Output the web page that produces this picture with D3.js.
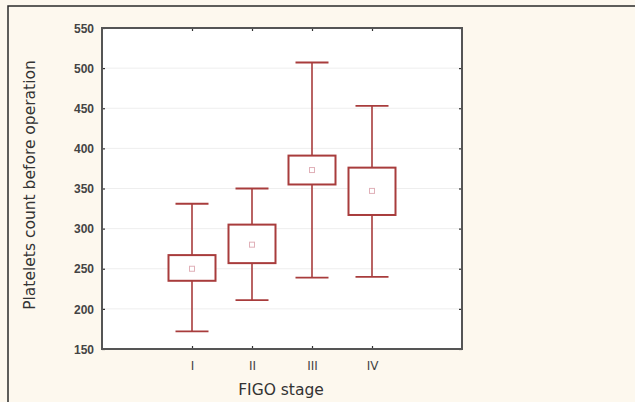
<!DOCTYPE html>
<html><head><meta charset="utf-8">
<script src="https://cdn.jsdelivr.net/npm/d3@7"></script>
<style>html,body{margin:0;padding:0;background:#fdf8ee;}svg{display:block;}</style>
</head><body><svg id="c" width="635" height="402"></svg>
<script>
const categories = ["I", "II", "III", "IV"];
const whiskerLow = [172, 211, 239, 240];
const boxLow = [235, 257, 355, 317];
const means = [250, 280, 373, 347];
const boxHigh = [267, 305, 391, 376];
const whiskerHigh = [331, 350, 507, 453];
const yTicks = [150, 200, 250, 300, 350, 400, 450, 500, 550];

const svg = d3.select("#c");
const W = 635, H = 402;
const m = {l: 102, r: 462, t: 28, b: 349};
const red = "#a83c3c";

svg.append("rect").attr("width", W).attr("height", H).attr("fill", "#fdf8ee");
svg.append("path").attr("d", `M8,${H} L8,6 L${W},6`).attr("fill", "none").attr("stroke", "#2a2a2a").attr("stroke-width", 1.5);

const slots = ["_a", ...categories, "_b"];
const x = d3.scalePoint().domain(slots).range([m.l, m.r]).padding(0.5);
const y = d3.scaleLinear().domain([150, 550]).range([m.b, m.t]);

svg.append("rect").attr("x", m.l).attr("y", m.t).attr("width", m.r - m.l).attr("height", m.b - m.t).attr("fill", "#fff");

svg.append("g").selectAll("line").data(yTicks.slice(1, -1)).join("line")
  .attr("x1", m.l).attr("x2", m.r).attr("y1", d => y(d)).attr("y2", d => y(d))
  .attr("stroke", "#eeeeee").attr("stroke-width", 1);

const axisColor = "#555";
const gl = svg.append("g").attr("transform", `translate(${m.l},0)`)
  .call(d3.axisLeft(y).tickValues(yTicks).tickSize(-3).tickPadding(8));
const gr = svg.append("g").attr("transform", `translate(${m.r},0)`)
  .call(d3.axisRight(y).tickValues(yTicks).tickSize(-3).tickFormat(""));
const gb = svg.append("g").attr("transform", `translate(0,${m.b})`)
  .call(d3.axisBottom(x).tickValues(slots).tickSize(-3).tickPadding(12).tickFormat(d => d.startsWith("_") ? "" : d));
const gt = svg.append("g").attr("transform", `translate(0,${m.t})`)
  .call(d3.axisTop(x).tickValues(slots).tickSize(-3).tickFormat(""));
[gl, gr, gb, gt].forEach(g => {
  g.select(".domain").remove();
  g.selectAll(".tick line").attr("stroke", "#333").attr("stroke-width", 1.2);
  g.selectAll("text").attr("fill", "#444").attr("font-family", "Liberation Sans, Arial, sans-serif");
});
gl.selectAll("text").attr("font-size", 12).attr("font-weight", "bold").attr("dy", "0.35em");
gb.selectAll("text").attr("font-size", 12).attr("font-family", "DejaVu Sans, sans-serif").attr("fill", "#444");
gb.selectAll(".tick").filter(d => d === "_a" || d === "_b").select("line").remove();
gt.selectAll(".tick").filter(d => d === "_a" || d === "_b").select("line").remove();

svg.append("rect").attr("x", m.l).attr("y", m.t).attr("width", m.r - m.l).attr("height", m.b - m.t)
  .attr("fill", "none").attr("stroke", axisColor).attr("stroke-width", 2);

const bw = 47, cw = 33;
const g = svg.append("g").selectAll("g").data(categories).join("g");
g.append("line").attr("x1", d => x(d)).attr("x2", d => x(d))
  .attr("y1", (d, i) => y(whiskerLow[i])).attr("y2", (d, i) => y(boxLow[i]))
  .attr("stroke", red).attr("stroke-width", 1.6);
g.append("line").attr("x1", d => x(d)).attr("x2", d => x(d))
  .attr("y1", (d, i) => y(boxHigh[i])).attr("y2", (d, i) => y(whiskerHigh[i]))
  .attr("stroke", red).attr("stroke-width", 1.6);
g.append("line").attr("x1", d => x(d) - cw / 2).attr("x2", d => x(d) + cw / 2)
  .attr("y1", (d, i) => y(whiskerLow[i])).attr("y2", (d, i) => y(whiskerLow[i]))
  .attr("stroke", red).attr("stroke-width", 1.8);
g.append("line").attr("x1", d => x(d) - cw / 2).attr("x2", d => x(d) + cw / 2)
  .attr("y1", (d, i) => y(whiskerHigh[i])).attr("y2", (d, i) => y(whiskerHigh[i]))
  .attr("stroke", red).attr("stroke-width", 1.8);
g.append("rect").attr("x", d => x(d) - bw / 2).attr("width", bw)
  .attr("y", (d, i) => y(boxHigh[i])).attr("height", (d, i) => y(boxLow[i]) - y(boxHigh[i]))
  .attr("fill", "#fff").attr("stroke", red).attr("stroke-width", 2);
g.append("rect").attr("x", d => x(d) - 2.5).attr("width", 5)
  .attr("y", (d, i) => y(means[i]) - 2.5).attr("height", 5)
  .attr("fill", "none").attr("stroke", "#e0b0b8").attr("stroke-width", 1);

svg.append("text").attr("x", 281).attr("y", 395).attr("text-anchor", "middle")
  .attr("font-family", "DejaVu Sans, sans-serif").attr("font-size", 15.5).attr("fill", "#333").text("FIGO stage");
svg.append("text").attr("transform", `translate(35,185) rotate(-90)`).attr("text-anchor", "middle")
  .attr("font-family", "DejaVu Sans, sans-serif").attr("font-size", 15.5).attr("fill", "#333").text("Platelets count before operation");
</script></body></html>
